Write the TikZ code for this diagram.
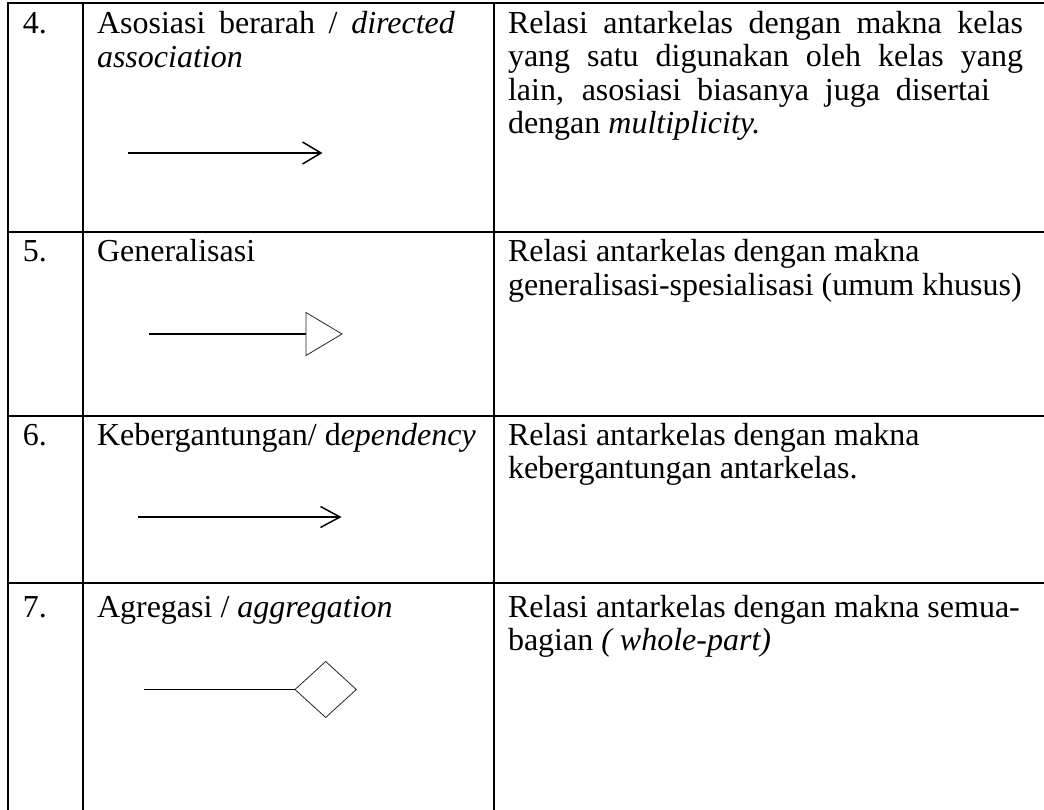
\documentclass[tikz,border=0pt]{standalone}
\usepackage{fontspec}
\setmainfont{Liberation Serif}
\begin{document}
\begin{tikzpicture}[x=1pt,y=-1pt,
  rule/.style={line width=2.6pt,line cap=rect},
  txt/.style={anchor=base west,inner sep=0pt,outer sep=0pt,
    font=\fontsize{32}{33.5}\selectfont},
  shaft/.style={line width=1.9pt},
  barb/.style={line width=1.5pt,line join=miter},
  hollow/.style={line width=0.8pt,draw=black!85,fill=white,line join=miter}]
\useasboundingbox (0,0) rectangle (1044,810);
\fill[white] (0,0) rectangle (1044,810);

% table grid
\draw[rule] (8,3) -- (1044,3);
\draw[rule] (8,232) -- (1044,232);
\draw[rule] (8,416) -- (1044,416);
\draw[rule] (8,583) -- (1044,583);
\draw[rule] (8,3) -- (8,812);
\draw[rule] (83,3) -- (83,812);
\draw[rule] (494,3) -- (494,812);

% row 4
\node[txt] (n4) at (23,33.5) {4.};
\node[txt] (m4) at (97,33.5) {\vtop{\baselineskip=34pt
  \hbox{\makebox[358pt][s]{Asosiasi berarah / \textit{directed}}}
  \hbox{\textit{association}}}};
\node[txt] (d4) at (508,33.5) {\vtop{\baselineskip=33.5pt
  \hbox{\makebox[515pt][s]{Relasi antarkelas dengan makna kelas}}
  \hbox{\makebox[515pt][s]{yang satu digunakan oleh kelas yang}}
  \hbox{\makebox[482pt][s]{lain, asosiasi biasanya juga disertai}}
  \hbox{dengan \textit{multiplicity.}}}};
\coordinate (a4s) at (128,153);
\coordinate (a4e) at (321,153);
\draw[shaft] (a4s) -- (a4e);
\draw[barb] (302.5,142) -- (a4e) -- (302.5,164);

% row 5
\node[txt] (n5) at (23,262) {5.};
\node[txt] (m5) at (97,262) {Generalisasi};
\node[txt] (d5) at (508,262) {\vtop{\baselineskip=33pt
  \hbox{Relasi antarkelas dengan makna}
  \hbox{generalisasi-spesialisasi (umum khusus)}}};
\coordinate (a5s) at (149,334);
\coordinate (a5e) at (306,334);
\draw[shaft] (a5s) -- (a5e);
\draw[hollow] (a5e) -- (306,312.5) -- (342,334) -- (306,355.5) -- cycle;

% row 6
\node[txt] (n6) at (23,445.5) {6.};
\node[txt] (m6) at (97,445.5) {Kebergantungan/ d\textit{ependency}};
\node[txt] (d6) at (508,445.5) {\vtop{\baselineskip=33pt
  \hbox{Relasi antarkelas dengan makna}
  \hbox{kebergantungan antarkelas.}}};
\coordinate (a6s) at (138,517);
\coordinate (a6e) at (340,517);
\draw[shaft] (a6s) -- (a6e);
\draw[barb] (320.5,506.5) -- (a6e) -- (320.5,527.5);

% row 7
\node[txt] (n7) at (23,617) {7.};
\node[txt] (m7) at (97,617) {Agregasi / \textit{aggregation}};
\node[txt] (d7) at (508,617) {\vtop{\baselineskip=33.5pt
  \hbox{Relasi antarkelas dengan makna semua-}
  \hbox{bagian \textit{( whole-part)}}}};
\coordinate (a7s) at (144,689.5);
\coordinate (a7e) at (295,689.5);
\draw[shaft] (a7s) -- (a7e);
\draw[hollow] (a7e) -- (325.7,661.5) -- (356.3,689.5) -- (325.7,717.5) -- cycle;
\end{tikzpicture}
\end{document}
